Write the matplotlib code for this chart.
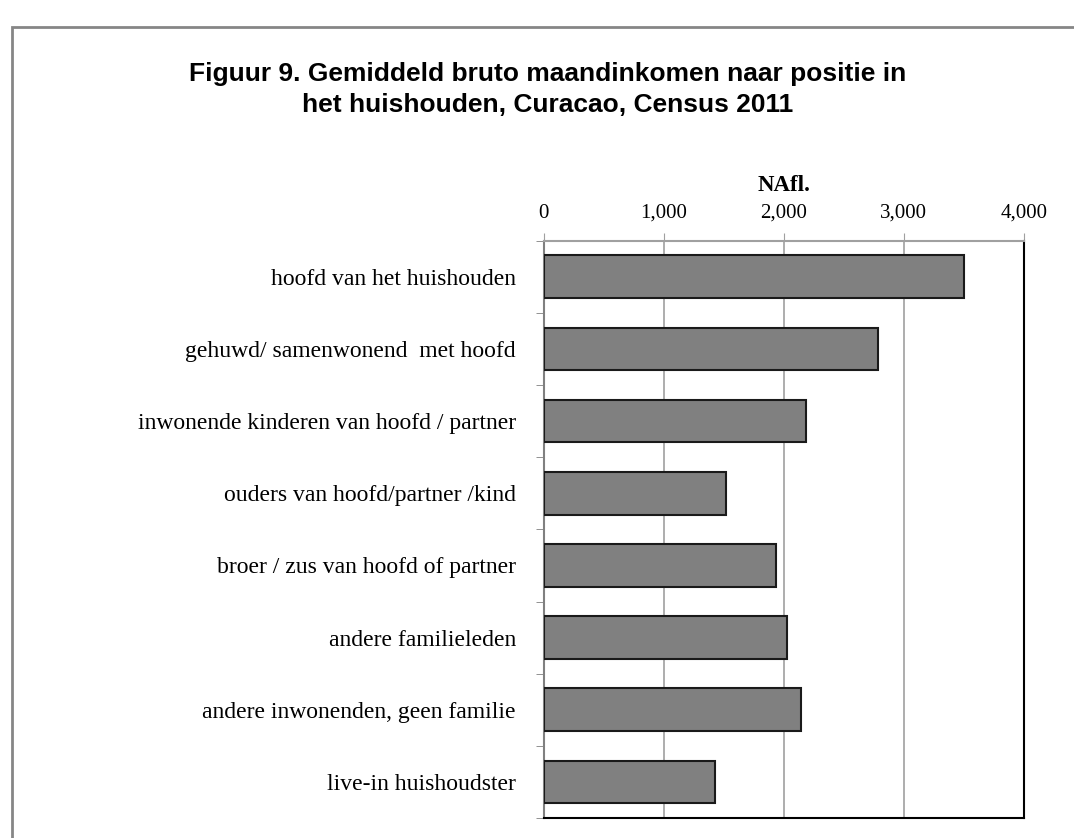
import matplotlib
matplotlib.use("Agg")
import matplotlib.pyplot as plt
from matplotlib.patches import Rectangle

# data
categories = [
    "hoofd van het huishouden",
    "gehuwd/ samenwonend  met hoofd",
    "inwonende kinderen van hoofd / partner",
    "ouders van hoofd/partner /kind",
    "broer / zus van hoofd of partner",
    "andere familieleden",
    "andere inwonenden, geen familie",
    "live-in huishoudster",
]
income = [3500, 2783, 2188, 1517, 1933, 2028, 2147, 1430]
xticks = [0, 1000, 2000, 3000, 4000]
xtick_labels = ["0", "1,000", "2,000", "3,000", "4,000"]

W, H = 1074, 838
fig = plt.figure(figsize=(W / 100, H / 100), dpi=100)

# outer chart border (runs off the right and bottom edges)
fig.patches.append(Rectangle((12 / W, -0.1), 1.2, 1 - 27 / H + 0.1,
                             transform=fig.transFigure, fill=False,
                             edgecolor="#868686", linewidth=2))

fig.text(0.51, 1 - 74 / H, "Figuur 9. Gemiddeld bruto maandinkomen naar positie in",
         ha="center", va="center", fontsize=19, fontweight="bold",
         family="Liberation Sans")
fig.text(0.51, 1 - 105 / H, "het huishouden, Curacao, Census 2011",
         ha="center", va="center", fontsize=19, fontweight="bold",
         family="Liberation Sans")

ax = fig.add_axes([543.7 / W, 1 - 818 / H, 480 / W, (818 - 240.7) / H])

y = list(range(len(categories)))
ax.barh(y, income, height=0.59, color="#808080", edgecolor="#1a1a1a",
        linewidth=1.5, zorder=3)

ax.set_xlim(0, 4000)
ax.set_ylim(len(categories) - 0.5, -0.5)

ax.xaxis.tick_top()
ax.set_xticks(xticks)
ax.set_xticklabels(xtick_labels, family="Liberation Serif", fontsize=15)
ax.tick_params(axis="x", length=6, color="#a0a0a0", pad=7)
ax.grid(axis="x", color="#a0a0a0", linewidth=1.2, zorder=0)

ax.set_yticks(y)
ax.set_yticklabels(categories, family="Liberation Serif", fontsize=17)
ax.set_yticks([i + 0.5 for i in range(-1, len(categories))], minor=True)
ax.tick_params(axis="y", which="major", length=0, pad=20)
ax.tick_params(axis="y", which="minor", length=6, color="#808080")

ax.spines["top"].set_color("#a0a0a0")
ax.spines["left"].set_color("#808080")
ax.spines["right"].set_color("black")
ax.spines["bottom"].set_color("black")
for s in ax.spines.values():
    s.set_linewidth(1.5)

ax.set_title("NAfl.", family="Liberation Serif", fontweight="bold",
             fontsize=16.5, pad=36)

fig.savefig("out.png", dpi=100)
